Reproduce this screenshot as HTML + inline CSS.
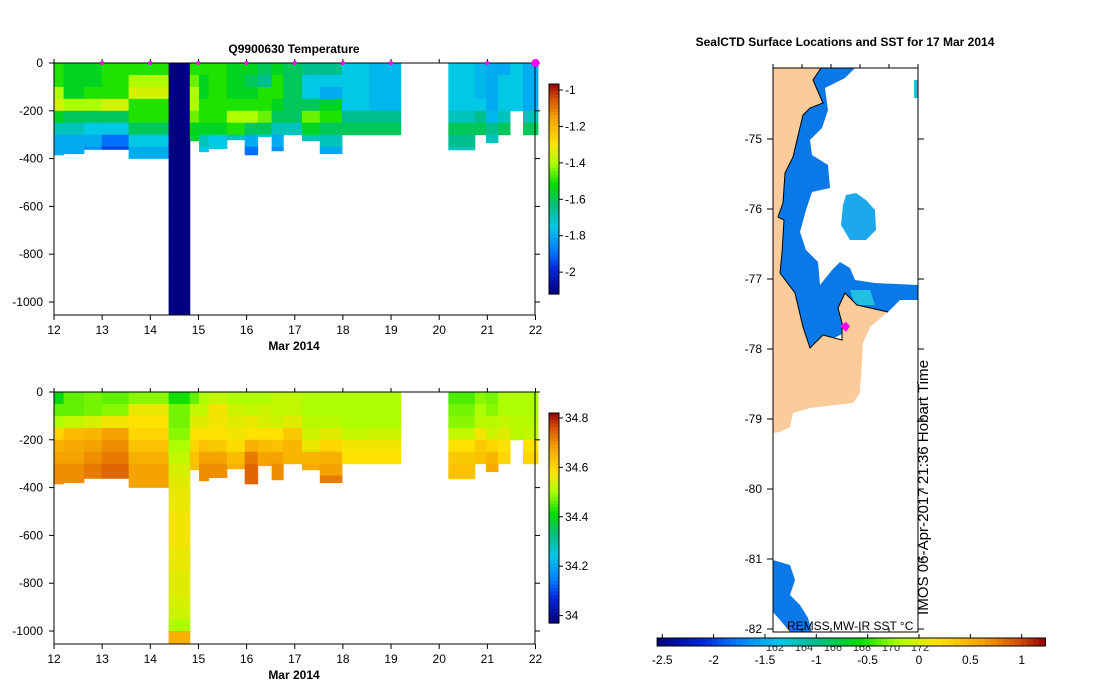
<!DOCTYPE html>
<html><head><meta charset="utf-8"><style>
body{margin:0;background:#fff}
svg{display:block;font-family:"Liberation Sans",sans-serif}
</style></head><body>
<svg id="s" width="1099" height="700" xmlns="http://www.w3.org/2000/svg">
<g id="map">
 <polygon fill="#0a78e6" points="815,68 855,68 845,78 825,88 828,110 822,128 810,140 812,155 828,165 830,188 812,192 806,210 800,232 806,250 818,262 820,285 832,270 840,262 850,268 855,280 875,283 918,285 918,300 900,300 888,312 850,330 810,350 780,300 778,68"/>
 <polygon fill="#1aa8ea" points="846,195 856,193 866,200 875,210 876,230 866,240 850,240 841,225 843,205"/>
 <polygon fill="#20c0e0" points="850,290 870,290 875,305 855,305"/>
 <polygon fill="#0a78e6" points="773,560 790,565 795,580 790,595 800,605 808,618 812,632 790,632 780,620 773,612"/>
 <rect x="914" y="80" width="4" height="18" fill="#20c0e0"/>
 <polygon fill="#fccb9a" stroke="none" points="773,68 821,68 813,80 823,103 810,108 803,115 797,140 793,157 785,173 783,203 778,217 784,220 782,253 780,273 795,293 803,327 810,348 823,335 842,340 842,323 838,308 845,293 857,305 888,312 870,327 863,343 860,393 853,403 810,408 793,413 790,427 780,432 773,433"/>
 <polyline fill="none" stroke="#000" stroke-width="1" points="821,68 813,80 823,103 810,108 803,115 797,140 793,157 785,173 783,203 778,217 784,220 782,253 780,273 795,293 803,327 810,348 823,335 842,340 842,323 838,308 845,293 857,305 888,312"/>
 <polygon fill="#ff00ff" points="840,326 846,322 850,326 846,332"/>
 <rect x="773" y="68" width="145" height="564" fill="none" stroke="#000"/>
 <text x="845" y="46" font-size="12" font-weight="bold" text-anchor="middle">SealCTD Surface Locations and SST for 17 Mar 2014</text>
 <text transform="translate(928,615) rotate(-90)" font-size="15" textLength="255" lengthAdjust="spacingAndGlyphs">IMOS 06-Apr-2017 21:36 Hobart Time</text>
 <text x="787" y="630" font-size="12">REMSS MW-IR SST °C</text>
</g>
<g id="top"></g>
<g id="bot"></g>
<g id="sstbar"></g>
</svg>
<script>
const colStart=[12.0,12.2,12.62,12.99,13.55,14.38,14.82,15.01,15.21,15.59,15.96,16.23,16.52,16.76,17.15,17.52,17.98,18.54,20.19,20.74,20.97,21.22,21.47,21.74];
const colEnd=[12.2,12.62,12.99,13.55,14.38,14.82,15.01,15.21,15.59,15.96,16.23,16.52,16.76,17.15,17.52,17.98,18.54,19.2,20.74,20.97,21.22,21.47,21.74,22.05];
const colDepth=[384,379,361,361,399,1050,325,371,358,321,384,308,367,300,325,379,300,300,363,300,333,300,200,300];
const tempProfiles=[
[-1.5,-1.5,-1.4,-1.35,-1.55,-1.7,-1.8,-1.8],
[-1.55,-1.55,-1.55,-1.4,-1.6,-1.7,-1.8,-1.8],
[-1.55,-1.55,-1.5,-1.4,-1.6,-1.75,-1.8,-1.85],
[-1.5,-1.5,-1.5,-1.35,-1.6,-1.75,-1.9,-1.95],
[-1.5,-1.4,-1.35,-1.5,-1.5,-1.6,-1.75,-1.8],
[-2.15],
[-1.5,-1.45,-1.4,-1.4,-1.45,-1.55,-1.55],
[-1.5,-1.55,-1.55,-1.5,-1.5,-1.55,-1.7,-1.75],
[-1.5,-1.5,-1.5,-1.5,-1.5,-1.55,-1.75],
[-1.55,-1.55,-1.55,-1.5,-1.4,-1.5,-1.7],
[-1.55,-1.6,-1.55,-1.5,-1.4,-1.6,-1.8,-1.9],
[-1.6,-1.65,-1.5,-1.5,-1.45,-1.6,-1.75],
[-1.55,-1.5,-1.5,-1.55,-1.6,-1.7,-1.8,-1.85],
[-1.6,-1.6,-1.6,-1.6,-1.6,-1.7],
[-1.65,-1.75,-1.75,-1.6,-1.45,-1.55,-1.7],
[-1.65,-1.75,-1.8,-1.55,-1.5,-1.6,-1.7,-1.8],
[-1.75,-1.75,-1.75,-1.75,-1.65,-1.6],
[-1.78,-1.78,-1.78,-1.78,-1.65,-1.6],
[-1.75,-1.75,-1.75,-1.75,-1.7,-1.6,-1.65,-1.7],
[-1.78,-1.78,-1.78,-1.75,-1.65,-1.6],
[-1.8,-1.8,-1.8,-1.8,-1.78,-1.65,-1.7],
[-1.8,-1.75,-1.75,-1.75,-1.7,-1.6],
[-1.75,-1.75,-1.75,-1.75],
[-1.8,-1.8,-1.8,-1.8,-1.7,-1.6]];
const salProfiles=[
[34.4,34.46,34.5,34.6,34.66,34.68,34.7,34.7],
[34.46,34.46,34.52,34.64,34.67,34.68,34.7],
[34.47,34.47,34.54,34.65,34.68,34.7,34.72],
[34.46,34.48,34.57,34.68,34.7,34.72,34.74],
[34.48,34.56,34.58,34.6,34.63,34.66,34.68,34.68],
[34.42,34.47,34.47,34.48,34.5,34.52,34.54,34.55,34.56,34.56,34.57,34.57,34.57,34.56,34.56,34.55,34.55,34.54,34.53,34.5,34.66,34.66],
[34.46,34.52,34.55,34.58,34.6,34.63],
[34.5,34.52,34.55,34.58,34.63,34.68,34.7],
[34.52,34.57,34.57,34.58,34.62,34.68,34.7],
[34.5,34.53,34.55,34.57,34.59,34.64,34.66],
[34.5,34.52,34.56,34.58,34.66,34.72,34.74,34.74],
[34.5,34.53,34.54,34.58,34.64,34.68],
[34.52,34.52,34.53,34.58,34.63,34.68,34.7],
[34.52,34.52,34.55,34.62,34.65],
[34.5,34.5,34.51,34.53,34.56,34.65,34.67],
[34.5,34.5,34.51,34.55,34.6,34.66,34.68,34.72],
[34.5,34.5,34.5,34.52,34.57,34.58],
[34.5,34.5,34.5,34.53,34.57,34.58],
[34.45,34.47,34.48,34.52,34.58,34.62,34.63,34.63],
[34.48,34.5,34.51,34.57,34.62,34.63],
[34.47,34.48,34.51,34.53,34.6,34.65,34.67],
[34.5,34.5,34.52,34.55,34.58,34.6],
[34.5,34.5,34.51,34.51],
[34.5,34.5,34.51,34.52,34.58,34.6]];
const markerDays=[13,14,15,16,17,18,19,21,22];
const xTicks=[12,13,14,15,16,17,18,19,20,21,22];
const yTicks=[0,-200,-400,-600,-800,-1000];
const tempBarTicks=[-1,-1.2,-1.4,-1.6,-1.8,-2];
const salBarTicks=[34.8,34.6,34.4,34.2,34];
const sstTicks=[-2.5,-2,-1.5,-1,-0.5,0,0.5,1];
const lonTicks=[162,164,166,168,170,172];
const latTicks=[-75,-76,-77,-78,-79,-80,-81,-82];

const NS="http://www.w3.org/2000/svg";
function mk(p,tag,a){const e=document.createElementNS(NS,tag);for(const k in a)e.setAttribute(k,a[k]);p.appendChild(e);return e;}
const stops=[[0,0,0,128],[0.12,0,40,220],[0.2,0,120,255],[0.32,0,200,230],[0.42,0,190,130],[0.52,0,220,0],[0.62,170,255,0],[0.72,255,225,0],[0.84,245,160,0],[0.93,215,80,0],[1,150,0,0]];
function cmap(t){t=Math.max(0,Math.min(1,t));for(let i=1;i<stops.length;i++){if(t<=stops[i][0]){const a=stops[i-1],b=stops[i],f=(t-a[0])/(b[0]-a[0]);return `rgb(${Math.round(a[1]+f*(b[1]-a[1]))},${Math.round(a[2]+f*(b[2]-a[2]))},${Math.round(a[3]+f*(b[3]-a[3]))})`;}}return "rgb(150,0,0)";}

function panel(g,y0,profiles,vmin,vmax,barTicks,barFmt,withMarkers,name){
  const X=d=>54+(d-12)*48.15, Y=m=>y0+(-m)*0.239;
  const V=v=>(v-vmin)/(vmax-vmin);
  for(let c=0;c<colStart.length;c++){
    const p=profiles[c];
    for(let z=0;z<colDepth[c];z+=50){
      const v=p[Math.min(Math.floor(z/50),p.length-1)];
      const r=mk(g,'rect',{x:X(colStart[c]),y:Y(-z),width:X(colEnd[c])-X(colStart[c])+0.5,height:(Math.min(z+50,colDepth[c])-z)*0.239+0.5,fill:cmap(V(v))});
      
      
    }
  }
  const fr=mk(g,'rect',{x:54,y:y0,width:481,height:252,fill:'none',stroke:'#000'});
  
  xTicks.forEach(d=>{
    mk(g,'line',{x1:X(d),x2:X(d),y1:y0+252,y2:y0+257,stroke:'#000'});
    mk(g,'line',{x1:X(d),x2:X(d),y1:y0,y2:y0-4,stroke:'#000'});
    const t=mk(g,'text',{x:X(d),y:y0+271,'font-size':12,'text-anchor':'middle'});t.textContent=d;
    
  });
  const xl=mk(g,'text',{x:294,y:y0+287,'font-size':12,'font-weight':'bold','text-anchor':'middle'});xl.textContent='Mar 2014';
  
  yTicks.forEach(m=>{
    mk(g,'line',{x1:49,x2:54,y1:Y(m),y2:Y(m),stroke:'#000'});
    mk(g,'line',{x1:535,x2:540,y1:Y(m),y2:Y(m),stroke:'#000'});
    const t=mk(g,'text',{x:43,y:Y(m)+4,'font-size':12,'text-anchor':'end'});t.textContent=m;
    
  });
  const by0=y0+21, by1=y0+231;
  for(let i=0;i<60;i++){
    const r=mk(g,'rect',{x:549,y:by0+i*(by1-by0)/60,width:10,height:(by1-by0)/60+0.6,fill:cmap(1-(i+0.5)/60)});
    
  }
  mk(g,'rect',{x:549,y:by0,width:10,height:by1-by0,fill:'none',stroke:'#000'});
  barTicks.forEach(v=>{
    const yy=by1-V(v)*(by1-by0);
    mk(g,'line',{x1:559,x2:563,y1:yy,y2:yy,stroke:'#000'});
    const t=mk(g,'text',{x:565,y:yy+4,'font-size':12});t.textContent=barFmt(v);
    
  });
  if(withMarkers){
    markerDays.forEach((d,i)=>{
      const r=i==markerDays.length-1?4:2;
      const c=mk(g,'circle',{cx:X(d),cy:y0,r:r,fill:'#ff00ff'});
      
    });
    const t=mk(g,'text',{x:294,y:y0-10,'font-size':12,'font-weight':'bold','text-anchor':'middle'});t.textContent='Q9900630  Temperature';
    
  }
}
panel(document.getElementById('top'),63,tempProfiles,-2.12,-0.967,tempBarTicks,v=>String(v),true,'temperature');
panel(document.getElementById('bot'),392,salProfiles,33.97,34.82,salBarTicks,v=>String(v),false,'salinity');

const mp=document.getElementById('map');
latTicks.forEach(l=>{
  const y=139+70*(-75-l);
  mk(mp,'line',{x1:767,x2:773,y1:y,y2:y,stroke:'#000'});
  mk(mp,'line',{x1:918,x2:924,y1:y,y2:y,stroke:'#000'});
  const t=mk(mp,'text',{x:762,y:y+4,'font-size':12,'text-anchor':'end'});t.textContent=l;
  
});
lonTicks.forEach((lo,i)=>{
  const x=773+(lo-162)*14.5;
  mk(mp,'line',{x1:x,x2:x,y1:632,y2:628,stroke:'#000'});
  mk(mp,'line',{x1:x,x2:x,y1:68,y2:64,stroke:'#000'});
  const t=mk(mp,'text',{x:x+2,y:651,'font-size':11,'text-anchor':'middle',fill:'#333'});t.textContent=lo;
  
});
const sb=document.getElementById('sstbar');
const SX=v=>919+v*102.7;
const s0=-2.55,s1=1.23;
for(let i=0;i<64;i++){
  const r=mk(sb,'rect',{x:SX(s0)+i*(SX(s1)-SX(s0))/64,y:638,width:(SX(s1)-SX(s0))/64+0.6,height:8,fill:cmap((i+0.5)/64)});
  
}
mk(sb,'rect',{x:SX(s0),y:638,width:SX(s1)-SX(s0),height:8,fill:'none',stroke:'#000'});
sstTicks.forEach(v=>{
  mk(sb,'line',{x1:SX(v),x2:SX(v),y1:634,y2:638,stroke:'#000'});
  const t=mk(sb,'text',{x:SX(v),y:664,'font-size':12,'text-anchor':'middle'});t.textContent=v;
  
});
</script>
</body></html>
